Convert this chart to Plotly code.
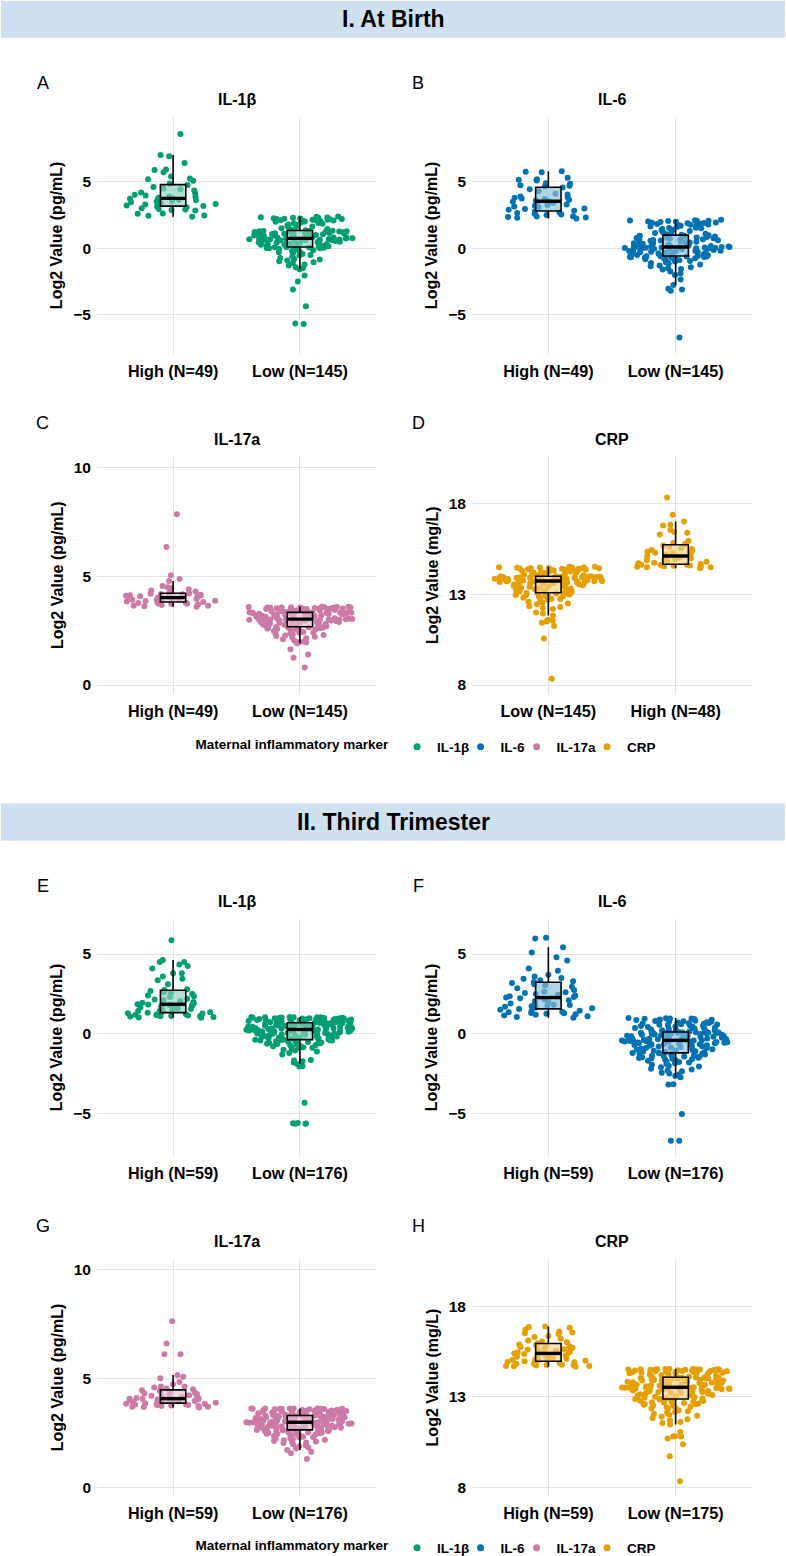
import numpy as np
import plotly.graph_objects as go

# ---------------- data (log2 values) ----------------
markers = ["IL-1β", "IL-6", "IL-17a", "CRP"]

# I. At Birth
a_high = [2.38, 2.45, 2.47, 2.6, 2.62, 2.84, 2.88, 2.92, 2.95, 3.02, 3.08, 3.15, 3.18, 3.22, 3.3, 3.33,
          3.41, 3.47, 3.5, 3.56, 3.62, 3.66, 3.7, 3.73, 3.76, 3.81, 3.87, 3.9, 3.97, 4.03, 4.12, 4.2,
          4.34, 4.44, 4.5, 4.62, 4.76, 4.88, 5.08, 5.2, 5.26, 5.4, 5.72, 5.9, 5.92, 6.42, 6.92, 7.02, 8.6]
a_low = [-5.7, -5.65, -4.35, -3.1, -2.5, -2.05, -1.58, -1.5, -1.42, -1.3,
         -1.22, -1.1, -1.05, -0.98, -0.92, -0.85, -0.8, -0.72, -0.62, -0.55,
         -0.5, -0.42, -0.36, -0.3, -0.25, -0.2, -0.14, -0.1, -0.05, 0.0,
         0.0, 0.02, 0.05, 0.06, 0.08, 0.08, 0.1, 0.12, 0.15, 0.18,
         0.2, 0.23, 0.25, 0.27, 0.31, 0.32, 0.34, 0.37, 0.38, 0.41,
         0.42, 0.45, 0.46, 0.49, 0.5, 0.52, 0.55, 0.57, 0.58, 0.6,
         0.61, 0.63, 0.64, 0.65, 0.67, 0.68, 0.69, 0.7, 0.71, 0.72,
         0.73, 0.74, 0.75, 0.77, 0.78, 0.8, 0.82, 0.83, 0.86, 0.88,
         0.9, 0.92, 0.94, 0.95, 0.97, 0.98, 1.0, 1.01, 1.03, 1.05,
         1.06, 1.08, 1.1, 1.11, 1.13, 1.15, 1.16, 1.18, 1.2, 1.21,
         1.23, 1.24, 1.25, 1.27, 1.28, 1.29, 1.3, 1.31, 1.33, 1.36,
         1.4, 1.45, 1.5, 1.55, 1.6, 1.65, 1.7, 1.75, 1.8, 1.85,
         1.88, 1.9, 1.95, 2.0, 2.0, 2.02, 2.05, 2.08, 2.1, 2.1,
         2.12, 2.15, 2.15, 2.18, 2.2, 2.2, 2.22, 2.25, 2.27, 2.3,
         2.3, 2.32, 2.34, 2.37, 2.4]
b_high = [2.25, 2.3, 2.32, 2.36, 2.4, 2.42, 2.5, 2.55, 2.6, 2.65, 2.7, 2.76,
          2.82, 2.9, 2.95, 3.0, 3.1, 3.15, 3.2, 3.26, 3.3, 3.4, 3.45, 3.5, 3.54,
          3.6, 3.65, 3.7, 3.75, 3.8, 3.85, 3.9, 4.05, 4.1, 4.3, 4.45, 4.58,
          4.65, 4.7, 4.75, 4.85, 4.9, 5.1, 5.15, 5.2, 5.3, 5.72, 5.76, 5.8]
b_low = [-6.7, -3.2, -3.1, -3.05, -2.76, -2.35, -2.0, -1.9, -1.75, -1.6,
         -1.55, -1.5, -1.42, -1.35, -1.3, -1.22, -1.15, -1.1, -1.05, -1.0,
         -0.95, -0.9, -0.86, -0.82, -0.8, -0.77, -0.74, -0.72, -0.7, -0.68,
         -0.66, -0.64, -0.62, -0.61, -0.6, -0.59, -0.58, -0.55, -0.52, -0.5,
         -0.47, -0.45, -0.42, -0.4, -0.38, -0.35, -0.33, -0.3, -0.28, -0.26,
         -0.24, -0.22, -0.2, -0.18, -0.16, -0.14, -0.12, -0.1, -0.08, -0.06,
         -0.04, -0.02, 0.0, 0.0, 0.02, 0.03, 0.05, 0.06, 0.07, 0.08,
         0.09, 0.09, 0.1, 0.12, 0.14, 0.16, 0.18, 0.2, 0.22, 0.24,
         0.27, 0.3, 0.32, 0.35, 0.38, 0.4, 0.43, 0.46, 0.48, 0.5,
         0.53, 0.56, 0.58, 0.6, 0.63, 0.66, 0.68, 0.7, 0.72, 0.75,
         0.78, 0.8, 0.82, 0.85, 0.88, 0.9, 0.92, 0.95, 0.98, 1.02,
         1.05, 1.1, 1.15, 1.2, 1.25, 1.3, 1.35, 1.4, 1.45, 1.5,
         1.52, 1.55, 1.6, 1.62, 1.65, 1.7, 1.72, 1.75, 1.78, 1.8,
         1.82, 1.85, 1.88, 1.9, 1.92, 1.95, 1.98, 2.0, 2.02, 2.05,
         2.07, 2.08, 2.1, 2.12, 2.14]
c_high = [3.6, 3.62, 3.65, 3.65, 3.68, 3.7, 3.72, 3.74, 3.75, 3.77, 3.78, 3.8,
          3.82, 3.84, 3.86, 3.88, 3.9, 3.92, 3.93, 3.95, 3.96, 3.98, 4.0, 4.01, 4.02,
          4.03, 4.05, 4.06, 4.08, 4.1, 4.12, 4.13, 4.15, 4.17, 4.18, 4.2, 4.21,
          4.25, 4.3, 4.35, 4.4, 4.45, 4.5, 4.55, 4.78, 4.88, 5.05, 6.35, 7.85]
c_low = [0.8, 1.25, 1.4, 1.65, 1.92, 1.95, 1.98, 2.0, 2.05, 2.1,
         2.15, 2.2, 2.22, 2.25, 2.28, 2.3, 2.33, 2.35, 2.38, 2.4,
         2.42, 2.44, 2.46, 2.48, 2.5, 2.52, 2.54, 2.56, 2.58, 2.6,
         2.61, 2.62, 2.63, 2.64, 2.66, 2.67, 2.68, 2.69, 2.7, 2.72,
         2.73, 2.74, 2.76, 2.77, 2.78, 2.8, 2.81, 2.82, 2.84, 2.85,
         2.86, 2.88, 2.89, 2.9, 2.91, 2.92, 2.93, 2.94, 2.95, 2.96,
         2.97, 2.97, 2.98, 2.99, 3.0, 3.0, 3.01, 3.01, 3.02, 3.02,
         3.02, 3.03, 3.03, 3.04, 3.05, 3.06, 3.07, 3.08, 3.09, 3.1,
         3.11, 3.12, 3.13, 3.14, 3.15, 3.16, 3.17, 3.18, 3.19, 3.2,
         3.21, 3.22, 3.23, 3.24, 3.25, 3.26, 3.27, 3.28, 3.29, 3.3,
         3.3, 3.31, 3.31, 3.32, 3.32, 3.33, 3.33, 3.33, 3.34, 3.35,
         3.36, 3.37, 3.38, 3.39, 3.4, 3.41, 3.42, 3.43, 3.44, 3.45,
         3.46, 3.47, 3.48, 3.48, 3.49, 3.5, 3.5, 3.51, 3.52, 3.52,
         3.53, 3.54, 3.54, 3.55, 3.55, 3.56, 3.56, 3.57, 3.57, 3.58,
         3.58, 3.59, 3.59, 3.6, 3.6]
d_low = [8.35, 10.56, 11.25, 11.43, 11.5, 11.55, 11.6, 11.84, 11.95, 12.0,
         12.2, 12.25, 12.3, 12.35, 12.45, 12.5, 12.55, 12.6, 12.65, 12.7,
         12.75, 12.75, 12.8, 12.82, 12.85, 12.88, 12.9, 12.92, 12.95, 12.97,
         13.0, 13.02, 13.04, 13.05, 13.07, 13.08, 13.09, 13.12, 13.15, 13.18,
         13.2, 13.23, 13.26, 13.28, 13.3, 13.33, 13.35, 13.37, 13.4, 13.42,
         13.44, 13.46, 13.48, 13.5, 13.52, 13.54, 13.56, 13.58, 13.6, 13.61,
         13.62, 13.64, 13.65, 13.66, 13.67, 13.68, 13.69, 13.7, 13.71, 13.72,
         13.72, 13.73, 13.74, 13.75, 13.76, 13.77, 13.78, 13.79, 13.8, 13.81,
         13.82, 13.83, 13.84, 13.85, 13.86, 13.87, 13.88, 13.89, 13.9, 13.9,
         13.91, 13.92, 13.92, 13.93, 13.94, 13.94, 13.95, 13.95, 13.96, 13.96,
         13.97, 13.97, 13.97, 13.98, 13.98, 13.98, 13.98, 13.99, 14.0, 14.02,
         14.04, 14.06, 14.08, 14.1, 14.12, 14.14, 14.16, 14.18, 14.2, 14.22,
         14.24, 14.26, 14.28, 14.3, 14.31, 14.32, 14.34, 14.35, 14.36, 14.38,
         14.39, 14.4, 14.41, 14.42, 14.43, 14.44, 14.45, 14.46, 14.47, 14.48,
         14.48, 14.5, 14.5, 14.52, 14.53]
d_high = [14.45, 14.5, 14.5, 14.52, 14.55, 14.55, 14.58, 14.6, 14.62, 14.63, 14.64, 14.65,
          14.68, 14.72, 14.75, 14.8, 14.85, 14.88, 14.92, 14.95, 15.0, 15.03, 15.07, 15.1,
          15.14, 15.18, 15.22, 15.27, 15.3, 15.35, 15.4, 15.45, 15.5, 15.55, 15.62, 15.7,
          15.78, 15.85, 15.95, 16.3, 16.4, 16.45, 16.55, 16.8, 16.85, 17.02, 17.4, 18.35]

# II. Third Trimester
e_high = [1.0, 1.02, 1.05, 1.08, 1.1, 1.1, 1.12, 1.15, 1.18, 1.2, 1.22, 1.25, 1.27, 1.29,
          1.32, 1.35, 1.4, 1.42, 1.45, 1.5, 1.55, 1.6, 1.62, 1.65, 1.7, 1.72, 1.75, 1.8, 1.83,
          1.85,
          1.9, 1.95, 2.0, 2.05, 2.1, 2.15, 2.2, 2.3, 2.35, 2.4, 2.5, 2.55, 2.62, 2.68,
          2.75, 2.8, 3.1, 3.35, 3.45, 3.6, 3.8, 3.8, 4.1, 4.25, 4.35, 4.5, 4.5, 4.62, 5.86]
e_low = [-5.65, -5.65, -5.63, -5.62, -5.6, -4.33, -2.06, -2.04, -1.89, -1.8,
         -1.72, -1.68, -1.65, -1.3, -1.2, -1.12, -1.05, -1.0, -0.95, -0.9,
         -0.88, -0.85, -0.8, -0.78, -0.75, -0.72, -0.7, -0.68, -0.65, -0.62,
         -0.6, -0.58, -0.55, -0.52, -0.5, -0.48, -0.46, -0.44, -0.43, -0.42,
         -0.41, -0.4, -0.39, -0.38,
         -0.36, -0.34, -0.31, -0.3, -0.28, -0.25, -0.24, -0.22, -0.2, -0.17,
         -0.16, -0.14, -0.12, -0.1, -0.08, -0.06, -0.05, -0.03, -0.02, 0.0,
         0.01, 0.02, 0.04, 0.05, 0.07, 0.08, 0.1, 0.11, 0.12, 0.14,
         0.15, 0.16, 0.17, 0.18, 0.19, 0.2, 0.21, 0.22, 0.23, 0.24,
         0.25, 0.25, 0.26, 0.27,
         0.27, 0.28, 0.29, 0.3, 0.31, 0.32, 0.33, 0.34, 0.35, 0.36,
         0.37, 0.38, 0.39, 0.4, 0.41, 0.42, 0.43, 0.44, 0.45, 0.46,
         0.47, 0.48, 0.49, 0.5, 0.51, 0.52, 0.53, 0.54, 0.55, 0.56,
         0.57, 0.58, 0.59, 0.6, 0.61, 0.62, 0.63, 0.64, 0.65, 0.66,
         0.67, 0.68, 0.69, 0.69,
         0.7, 0.71, 0.72, 0.73, 0.74, 0.75, 0.76, 0.77, 0.78, 0.79,
         0.8, 0.81, 0.82, 0.83, 0.84, 0.85, 0.86, 0.87, 0.88, 0.89,
         0.9, 0.9, 0.91, 0.92, 0.93, 0.94, 0.95, 0.95, 0.96, 0.97,
         0.97, 0.98, 0.98, 0.99, 1.0, 1.0, 1.01, 1.02, 1.03, 1.03,
         1.04, 1.04, 1.05, 1.05]
f_high = [1.0, 1.05, 1.1, 1.15, 1.2, 1.22, 1.25, 1.28, 1.3, 1.35, 1.38, 1.42, 1.45, 1.5,
          1.55, 1.6, 1.65, 1.7, 1.72, 1.75, 1.8, 1.82, 1.85, 1.9, 2.0, 2.05, 2.1, 2.15, 2.22,
          2.27,
          2.3, 2.35, 2.4, 2.45, 2.5, 2.55, 2.6, 2.65, 2.75, 2.85, 2.95, 3.05, 3.1, 3.18,
          3.25, 3.3, 3.35, 3.45, 3.5, 3.6, 3.7, 3.95, 4.1, 4.6, 4.8, 5.1, 5.42, 5.97, 6.03]
f_low = [-6.72, -6.72, -5.04, -3.18, -3.17, -2.73, -2.65, -2.55, -2.5, -2.45,
         -2.35, -2.3, -2.25, -2.2, -2.1, -2.05, -2.0, -1.95, -1.9, -1.85,
         -1.8, -1.78, -1.75, -1.7, -1.65, -1.62, -1.6, -1.57, -1.55, -1.52,
         -1.5, -1.47, -1.45, -1.42, -1.4, -1.38, -1.35, -1.33, -1.3, -1.28,
         -1.26, -1.24, -1.22, -1.21,
         -1.19, -1.16, -1.14, -1.12, -1.1, -1.07, -1.05, -1.03, -1.0, -0.98,
         -0.96, -0.93, -0.9, -0.88, -0.85, -0.83, -0.8, -0.78, -0.76, -0.74,
         -0.72, -0.7, -0.68, -0.66, -0.64, -0.62, -0.6, -0.58, -0.57, -0.55,
         -0.54, -0.52, -0.51, -0.5, -0.49, -0.48, -0.47, -0.46, -0.45, -0.44,
         -0.43, -0.43, -0.42, -0.42,
         -0.41, -0.4, -0.38, -0.37, -0.35, -0.34, -0.32, -0.31, -0.3, -0.28,
         -0.27, -0.25, -0.24, -0.22, -0.21, -0.19, -0.18, -0.16, -0.15, -0.13,
         -0.12, -0.1, -0.09, -0.07, -0.06, -0.05, -0.03, -0.02, 0.0, 0.01,
         0.02, 0.03, 0.04, 0.05, 0.06, 0.07, 0.07, 0.08, 0.08, 0.09,
         0.09, 0.1, 0.1, 0.1,
         0.12, 0.15, 0.18, 0.2, 0.22, 0.25, 0.27, 0.3, 0.32, 0.34,
         0.36, 0.38, 0.4, 0.42, 0.44, 0.46, 0.48, 0.5, 0.52, 0.54,
         0.56, 0.58, 0.6, 0.62, 0.64, 0.66, 0.68, 0.7, 0.72, 0.74,
         0.76, 0.78, 0.8, 0.82, 0.84, 0.86, 0.88, 0.9, 0.92, 0.94,
         0.95, 0.96, 0.98, 0.99]
g_high = [3.68, 3.7, 3.72, 3.72, 3.75, 3.75, 3.78, 3.8, 3.8, 3.82, 3.83, 3.84, 3.85, 3.86,
          3.88, 3.9, 3.92, 3.94, 3.95, 3.97, 3.98, 4.0, 4.01, 4.02, 4.04, 4.05, 4.06, 4.07, 4.08,
          4.09,
          4.1, 4.12, 4.15, 4.18, 4.2, 4.22, 4.25, 4.28, 4.3, 4.33, 4.36, 4.4, 4.43, 4.47,
          4.5, 4.52, 4.55, 4.6, 4.65, 4.65, 4.75, 4.85, 5.02, 5.1, 5.18, 6.13, 6.13, 6.62, 7.64]
g_low = [1.32, 1.58, 1.65, 1.73, 1.8, 1.85, 1.9, 1.95, 2.0, 2.05,
         2.08, 2.1, 2.12, 2.15, 2.18, 2.2, 2.22, 2.25, 2.27, 2.3,
         2.32, 2.34, 2.36, 2.38, 2.4, 2.42, 2.44, 2.45, 2.47, 2.48,
         2.5, 2.51, 2.53, 2.54, 2.55, 2.57, 2.58, 2.59, 2.6, 2.61,
         2.62, 2.63, 2.64, 2.65,
         2.66, 2.67, 2.68, 2.69, 2.7, 2.71, 2.72, 2.73, 2.74, 2.75,
         2.76, 2.77, 2.78, 2.79, 2.8, 2.81, 2.82, 2.83, 2.84, 2.85,
         2.86, 2.87, 2.88, 2.89, 2.9, 2.91, 2.92, 2.93, 2.94, 2.95,
         2.95, 2.96, 2.96, 2.97, 2.97, 2.98, 2.98, 2.99, 2.99, 3.0,
         3.0, 3.0, 3.0, 3.0,
         3.01, 3.02, 3.03, 3.04, 3.05, 3.06, 3.07, 3.08, 3.09, 3.1,
         3.11, 3.12, 3.13, 3.14, 3.15, 3.16, 3.17, 3.18, 3.19, 3.2,
         3.21, 3.22, 3.22, 3.23, 3.24, 3.25, 3.25, 3.26, 3.27, 3.27,
         3.28, 3.28, 3.29, 3.29, 3.3, 3.3, 3.3, 3.31, 3.31, 3.31,
         3.31, 3.31, 3.31, 3.31,
         3.32, 3.33, 3.34, 3.35, 3.36, 3.37, 3.38, 3.39, 3.4, 3.41,
         3.42, 3.43, 3.44, 3.45, 3.46, 3.47, 3.48, 3.49, 3.5, 3.5,
         3.51, 3.52, 3.53, 3.54, 3.55, 3.55, 3.56, 3.57, 3.58, 3.58,
         3.59, 3.6, 3.6, 3.61, 3.61, 3.62, 3.62, 3.63, 3.63, 3.64,
         3.64, 3.64, 3.64, 3.64]
h_high = [14.66, 14.68, 14.7, 14.7, 14.72, 14.74, 14.75, 14.77, 14.8, 14.82, 14.85, 14.87, 14.9, 14.92,
          14.95, 14.98, 15.0, 15.03, 15.05, 15.08, 15.1, 15.13, 15.15, 15.2, 15.22, 15.25, 15.28, 15.32, 15.36,
          15.39,
          15.42, 15.45, 15.5, 15.52, 15.55, 15.6, 15.62, 15.65, 15.7, 15.75, 15.78, 15.8, 15.85, 15.88,
          15.95, 16.0, 16.05, 16.1, 16.2, 16.3, 16.35, 16.45, 16.5, 16.55, 16.6, 16.7, 16.8, 16.85, 16.87]
h_low = [8.34, 9.72, 10.37, 10.7, 10.8, 10.8, 10.82, 11.05, 11.47, 11.55,
         11.6, 11.68, 11.75, 11.82, 11.9, 11.95, 12.0, 12.05, 12.1, 12.15,
         12.2, 12.25, 12.3, 12.35, 12.38, 12.42, 12.45, 12.5, 12.52, 12.55,
         12.58, 12.6, 12.63, 12.65, 12.68, 12.7, 12.72, 12.74, 12.76, 12.78,
         12.8, 12.83, 12.85,
         12.87, 12.88, 12.9, 12.92, 12.95, 12.97, 13.0, 13.02, 13.05, 13.07,
         13.1, 13.12, 13.14, 13.16, 13.18, 13.2, 13.22, 13.24, 13.26, 13.28,
         13.3, 13.32, 13.34, 13.36, 13.37, 13.38, 13.4, 13.41, 13.42, 13.43,
         13.44, 13.45, 13.46, 13.47, 13.48, 13.48, 13.49, 13.5, 13.5, 13.51,
         13.51, 13.51, 13.52, 13.52, 13.52,
         13.53, 13.55, 13.57, 13.58, 13.6, 13.62, 13.63, 13.65, 13.66, 13.68,
         13.7, 13.71, 13.73, 13.74, 13.76, 13.77, 13.79, 13.8, 13.82, 13.83,
         13.85, 13.86, 13.88, 13.89, 13.9, 13.92, 13.93, 13.94, 13.95, 13.96,
         13.97, 13.98, 13.99, 14.0, 14.01, 14.02, 14.03, 14.04, 14.05, 14.05,
         14.06, 14.06, 14.07, 14.08,
         14.1, 14.12, 14.14, 14.16, 14.18, 14.2, 14.22, 14.24, 14.26, 14.28,
         14.3, 14.31, 14.32, 14.33, 14.34, 14.35, 14.36, 14.37, 14.38, 14.39,
         14.4, 14.41, 14.42, 14.43, 14.44, 14.45, 14.46, 14.46, 14.47, 14.48,
         14.48, 14.49, 14.49, 14.5, 14.5, 14.5, 14.51, 14.51, 14.52, 14.52,
         14.53, 14.53, 14.53]

panel_letters = ["A", "B", "C", "D", "E", "F", "G", "H"]
panel_markers = ["IL-1β", "IL-6", "IL-17a", "CRP", "IL-1β", "IL-6", "IL-17a", "CRP"]
panel_groups = [[a_high, a_low], [b_high, b_low], [c_high, c_low], [d_low, d_high],
                [e_high, e_low], [f_high, f_low], [g_high, g_low], [h_high, h_low]]
panel_ticktext = [["High (N=49)", "Low (N=145)"], ["High (N=49)", "Low (N=145)"],
                  ["High (N=49)", "Low (N=145)"], ["Low (N=145)", "High (N=48)"],
                  ["High (N=59)", "Low (N=176)"], ["High (N=59)", "Low (N=176)"],
                  ["High (N=59)", "Low (N=176)"], ["High (N=59)", "Low (N=175)"]]
panel_ytitle = ["Log2 Value (pg/mL)", "Log2 Value (pg/mL)", "Log2 Value (pg/mL)", "Log2 Value (mg/L)"] * 2
panel_yticks = [[-5, 0, 5], [-5, 0, 5], [0, 5, 10], [8, 13, 18]] * 2
section_titles = ["I. At Birth", "II. Third Trimester"]
legend_title = "Maternal inflammatory marker"

# ---------------- styles / layout ----------------
W, H = 786, 1556
FONT = "Liberation Sans, Arial, Helvetica, sans-serif"
point_colors = {"IL-1β": "#009E73", "IL-6": "#0072B2", "IL-17a": "#CC79A7", "CRP": "#E69F00"}
box_fills = {"IL-1β": "rgba(137,210,190,0.65)", "IL-6": "rgba(137,191,220,0.65)",
             "IL-17a": "rgba(232,193,214,0.65)", "CRP": "rgba(244,211,137,0.65)"}
legend_entry_widths = {"IL-1β": 18.5, "IL-6": 11, "IL-17a": 25.5, "CRP": 30}

col_x = [(97, 376), (472, 752)]
row_y = [(116.7, 354), (456.7, 693.7), (919, 1156), (1259, 1496)]
letter_x = [42.5, 418]
y_ranges = [[-7.95, 9.9], [-7.95, 9.9], [-0.4, 10.5], [7.52, 20.6],
            [-7.67, 7.2], [-7.67, 7.2], [-0.38, 10.5], [7.52, 20.6]]


def px_x(v):
    return v / W


def px_y(v):
    return 1 - v / H


fig = go.Figure()
layout = {}
annotations = []
shapes = []

for i in range(8):
    sfx = "" if i == 0 else str(i + 1)
    xref, yref = "x" + sfx, "y" + sfx
    (xl, xr) = col_x[i % 2]
    (yt, yb) = row_y[i // 2]
    mk = panel_markers[i]
    pc = point_colors[mk]
    for j, vals in enumerate(panel_groups[i]):
        xs = [j] * len(vals)
        # jittered raw points
        fig.add_trace(go.Box(
            x=xs, y=vals, boxpoints="all", jitter=1, pointpos=0, width=0.85,
            fillcolor="rgba(0,0,0,0)", line=dict(width=0, color="rgba(0,0,0,0)"),
            marker=dict(color=pc, size=6, line=dict(width=0)),
            xaxis=xref, yaxis=yref, showlegend=False, hoverinfo="y"))
        # box on top
        fig.add_trace(go.Box(
            x=xs, y=vals, boxpoints="outliers", width=0.2, whiskerwidth=0,
            fillcolor=box_fills[mk], line=dict(color="black", width=1.6),
            marker=dict(opacity=0, size=1),
            xaxis=xref, yaxis=yref, showlegend=False, hoverinfo="skip"))
        med = float(np.median(vals))
        fig.add_trace(go.Scatter(
            x=[j - 0.1, j + 0.1], y=[med, med], mode="lines",
            line=dict(color="black", width=3.4), xaxis=xref, yaxis=yref,
            showlegend=False, hoverinfo="skip"))

    layout["xaxis" + sfx] = dict(
        domain=[px_x(xl), px_x(xr)], anchor=yref, range=[-0.6, 1.6],
        tickmode="array", tickvals=[0, 1], ticktext=panel_ticktext[i],
        showgrid=True, gridcolor="#e2e2e2", gridwidth=1, zeroline=False, showline=False,
        ticks="", ticklabelstandoff=6,
        tickfont=dict(family=FONT, size=16.2, color="black", weight="bold"))
    layout["yaxis" + sfx] = dict(
        domain=[px_y(yb), px_y(yt)], anchor=xref, range=y_ranges[i],
        tickmode="array", tickvals=panel_yticks[i],
        showgrid=True, gridcolor="#e2e2e2", gridwidth=1, zeroline=False, showline=False,
        ticks="", ticklabelstandoff=5,
        tickfont=dict(family=FONT, size=15.5, color="black", weight="bold"),
        title=dict(text=panel_ytitle[i], standoff=6,
                   font=dict(family=FONT, size=16, color="black", weight="bold")))

    # panel letter and subplot title
    annotations.append(dict(text=panel_letters[i], x=px_x(letter_x[i % 2]), y=px_y(yt - 33.5),
                            xref="paper", yref="paper", showarrow=False, xanchor="center", yanchor="middle",
                            font=dict(family=FONT, size=18, color="black")))
    annotations.append(dict(text=mk, x=px_x((xl + xr) / 2), y=px_y(yt - 17.5),
                            xref="paper", yref="paper", showarrow=False, xanchor="center", yanchor="middle",
                            font=dict(family=FONT, size=16, color="black", weight="bold")))

# section bands
for (t, b, txt) in [(1, 37.7, section_titles[0]), (803.3, 840.7, section_titles[1])]:
    shapes.append(dict(type="rect", xref="paper", yref="paper", x0=px_x(1), x1=px_x(785),
                       y0=px_y(b), y1=px_y(t), fillcolor="#cfe1f0", line=dict(width=0), layer="below"))
    annotations.append(dict(text=txt, x=0.5, y=px_y((t + b) / 2), xref="paper", yref="paper",
                            showarrow=False, xanchor="center", yanchor="middle",
                            font=dict(family=FONT, size=23, color="black", weight="bold")))

# legend entries (one per marker, per section)
for k, lg in enumerate(["legend", "legend2"]):
    for mk in markers:
        fig.add_trace(go.Scatter(x=[None], y=[None], mode="markers", name=mk,
                                 marker=dict(color=point_colors[mk], size=7),
                                 legend=lg, legendwidth=legend_entry_widths[mk],
                                 xaxis="x" if k == 0 else "x5", yaxis="y" if k == 0 else "y5",
                                 showlegend=True))

leg_common = dict(orientation="h", xanchor="center", yanchor="middle", bgcolor="rgba(0,0,0,0)",
                  itemwidth=30, traceorder="normal", entrywidthmode="pixels",
                  font=dict(family=FONT, size=13.5, color="black", weight="bold"),
                  title=dict(text=legend_title, side="left",
                             font=dict(family=FONT, size=13.5, color="black", weight="bold")))

fig.update_layout(
    width=W, height=H, margin=dict(l=0, r=0, t=0, b=0, autoexpand=False),
    paper_bgcolor="white", plot_bgcolor="white",
    boxmode="overlay",
    annotations=annotations, shapes=shapes,
    legend=dict(x=px_x(428), y=px_y(747), **leg_common),
    legend2=dict(x=px_x(428), y=px_y(1548), **leg_common),
    **layout)

fig.write_html("out.html")
